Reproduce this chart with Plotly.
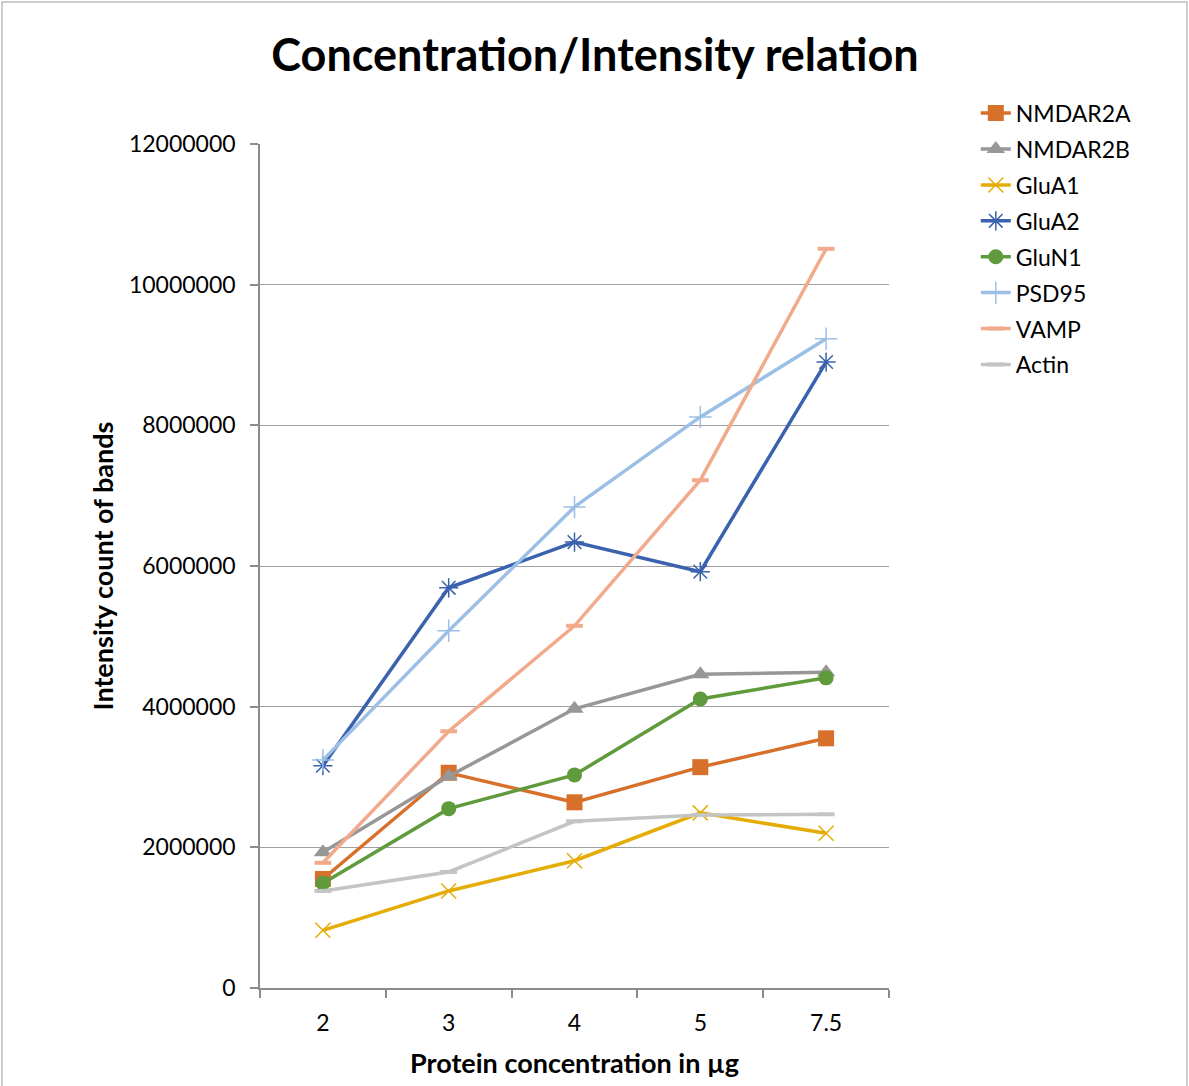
import plotly.graph_objects as go

# Protein amount loaded per lane (category axis)
concentrations = ["2", "3", "4", "5", "7.5"]

# Band intensity counts per protein
nmdar2a = [1550000, 3060000, 2640000, 3140000, 3550000]
nmdar2b = [1930000, 3010000, 3970000, 4460000, 4490000]
glua1 = [820000, 1380000, 1810000, 2490000, 2200000]
glua2 = [3160000, 5690000, 6340000, 5920000, 8900000]
glun1 = [1490000, 2550000, 3030000, 4110000, 4410000]
psd95 = [3240000, 5080000, 6840000, 8120000, 9230000]
vamp = [1780000, 3650000, 5150000, 7220000, 10510000]
actin = [1380000, 1650000, 2370000, 2460000, 2470000]

y_ticks = [0, 2000000, 4000000, 6000000, 8000000, 10000000, 12000000]

series = [
    ("NMDAR2A", nmdar2a, "#D6702B", "square", 16, 0),
    ("NMDAR2B", nmdar2b, "#979797", "triangle-up", 16, 0),
    ("GluA1", glua1, "#E4AC05", "x-thin-open", 15, 1.5),
    ("GluA2", glua2, "#3A62AD", "asterisk-open", 16, 1.5),
    ("GluN1", glun1, "#5F9A3C", "circle", 15, 0),
    ("PSD95", psd95, "#9CC0E5", "cross-thin-open", 16, 1.5),
    ("VAMP", vamp, "#F2AA8C", "line-ew-open", 12, 4),
    ("Actin", actin, "#C4C4C4", "line-ew-open", 12, 4),
]

FONT = "Lato"

fig = go.Figure()
for name, vals, color, symbol, size, lw in series:
    fig.add_trace(go.Scatter(
        x=concentrations, y=vals, name=name, mode="lines+markers",
        legendgroup=name,
        line=dict(color=color, width=3.5),
        marker=dict(symbol=symbol, size=size, color=color,
                    line=dict(color=color, width=lw)),
    ))

fig.update_layout(
    width=1189, height=1086,
    margin=dict(l=260, r=300, t=144, b=98),
    paper_bgcolor="white", plot_bgcolor="white",
    font=dict(family=FONT, color="#000000"),
    title=dict(text="<b>Concentration/Intensity relation</b>",
               x=(595 - 260) / 629, xanchor="center", xref="paper",
               y=1 - 55 / 1086, yanchor="middle",
               font=dict(size=45, family=FONT, color="#000000")),
    legend=dict(x=1.138, xanchor="left", y=1.062, yanchor="top",
                font=dict(size=23, family=FONT, color="#000000"),
                tracegroupgap=3, bgcolor="rgba(0,0,0,0)"),
    showlegend=True,
)

fig.update_xaxes(
    type="category", range=[-0.5, 4.5],
    showline=True, linecolor="#8C8C8C", linewidth=1.5,
    ticks="outside", tickson="boundaries", ticklen=8,
    tickcolor="#8C8C8C", tickwidth=1.5, ticklabelstandoff=14,
    showgrid=False, tickfont=dict(size=23, family=FONT, color="#000000"),
    title=dict(text="<b>Protein concentration in µg</b>",
               font=dict(size=27, family=FONT, color="#000000"), standoff=19),
)

fig.update_yaxes(
    range=[0, 12000000], tickvals=y_ticks,
    ticktext=[str(v) for v in y_ticks],
    showline=True, linecolor="#8C8C8C", linewidth=1.5,
    ticks="outside", ticklen=8, tickcolor="#8C8C8C", tickwidth=1.5,
    ticklabelstandoff=10,
    showgrid=True, gridcolor="#A0A0A0", gridwidth=1.4,
    zeroline=False,
    tickfont=dict(size=23, family=FONT, color="#000000"),
    title=dict(text="<b>Intensity count of bands</b>",
               font=dict(size=27, family=FONT, color="#000000"), standoff=7),
)

# Chart-area frame
fig.add_shape(type="rect", xref="paper", yref="paper",
              x0=(2 - 260) / 629, x1=(1187 - 260) / 629,
              y0=(988 - 1100) / 844, y1=(988 - 2) / 844,
              line=dict(color="#BDBDBD", width=1.5), layer="below")

fig.write_html("out.html")
